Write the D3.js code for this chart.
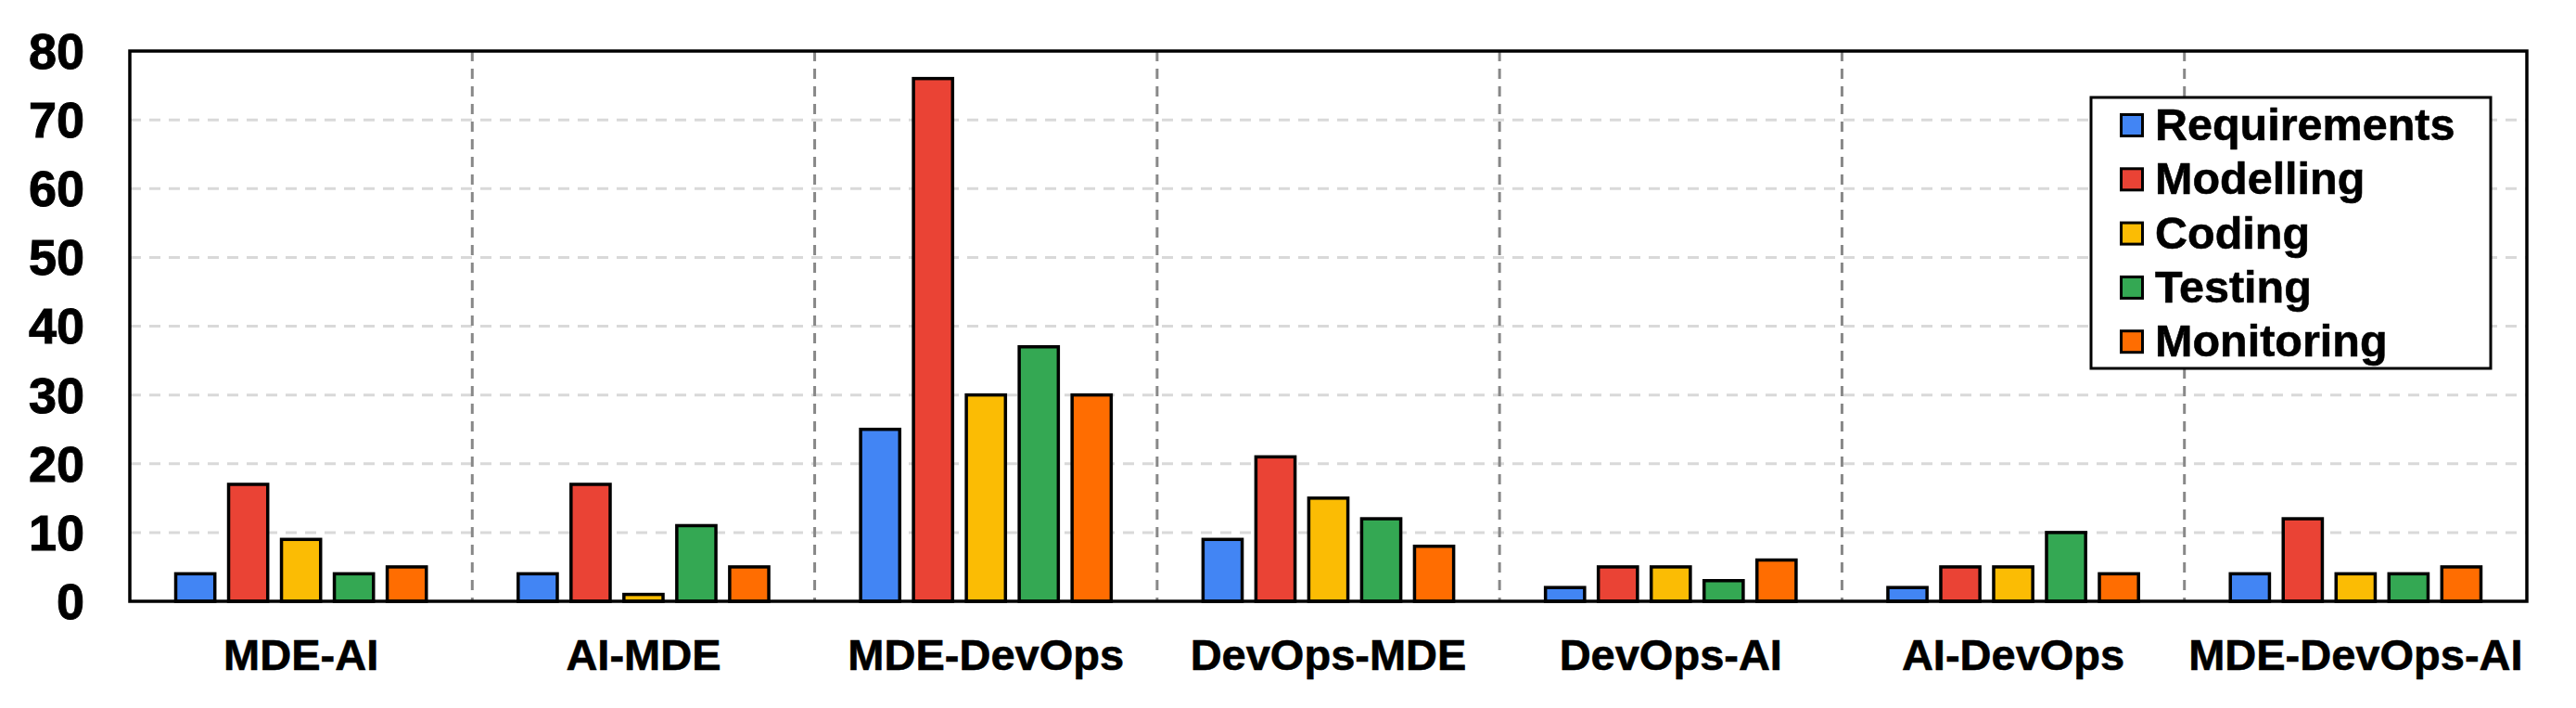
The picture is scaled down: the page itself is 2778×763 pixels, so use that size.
<!DOCTYPE html>
<html>
<head>
<meta charset="utf-8">
<script src="https://cdn.jsdelivr.net/npm/d3@7"></script>
<style>
  html, body { margin: 0; padding: 0; background: #fff; }
  svg { display: block; }
  text { font-family: "Liberation Sans", Arial, sans-serif; font-weight: bold; fill: #000; }
</style>
</head>
<body>
<svg id="chart" width="2778" height="763"></svg>
<script>
// ---- data ----
const categories = ["MDE-AI", "AI-MDE", "MDE-DevOps", "DevOps-MDE", "DevOps-AI", "AI-DevOps", "MDE-DevOps-AI"];
const seriesNames = ["Requirements", "Modelling", "Coding", "Testing", "Monitoring"];
const requirements = [4, 4, 25, 9, 2, 2, 4];
const modelling    = [17, 17, 76, 21, 5, 5, 12];
const coding       = [9, 1, 30, 15, 5, 5, 4];
const testing      = [4, 11, 37, 12, 3, 10, 4];
const monitoring   = [5, 5, 30, 8, 6, 4, 5];
const yTicks = [0, 10, 20, 30, 40, 50, 60, 70, 80];
const colors = ["#4285F4", "#EA4335", "#FBBC04", "#34A853", "#FF6D01"];

const seriesValues = [requirements, modelling, coding, testing, monitoring];

// ---- layout ----
const svg = d3.select("#chart");
const mLeft = 140, mRight = 2725, mTop = 55, mBottom = 648;

const x0 = d3.scaleBand().domain(categories).range([mLeft, mRight]).paddingInner(0).paddingOuter(0);
const bw = x0.bandwidth();
const x1 = d3.scaleBand().domain(seriesNames)
  .range([bw * 0.114, bw * 0.886]).paddingInner(0.26).paddingOuter(0.13);
const y = d3.scaleLinear().domain([0, 80]).range([mBottom, mTop]);

// horizontal gridlines
svg.append("g").selectAll("line")
  .data(yTicks.filter(t => t > 0 && t < 80))
  .join("line")
  .attr("x1", mLeft).attr("x2", mRight)
  .attr("y1", d => y(d)).attr("y2", d => y(d))
  .attr("stroke", "#d9d9d9").attr("stroke-width", 3)
  .attr("stroke-dasharray", "12,9");

// vertical separators
svg.append("g").selectAll("line")
  .data(categories.slice(1))
  .join("line")
  .attr("x1", d => x0(d)).attr("x2", d => x0(d))
  .attr("y1", mTop).attr("y2", mBottom)
  .attr("stroke", "#888888").attr("stroke-width", 3)
  .attr("stroke-dasharray", "11,8");

// bars
const groups = svg.append("g").selectAll("g")
  .data(categories)
  .join("g")
  .attr("transform", d => `translate(${x0(d)},0)`);

groups.selectAll("rect")
  .data((c, ci) => seriesNames.map((s, si) => ({ s, si, v: seriesValues[si][ci] })))
  .join("rect")
  .attr("x", d => x1(d.s))
  .attr("width", x1.bandwidth())
  .attr("y", d => y(d.v))
  .attr("height", d => y(0) - y(d.v))
  .attr("fill", d => colors[d.si])
  .attr("stroke", "#000").attr("stroke-width", 3.5);

// frame
svg.append("rect")
  .attr("x", mLeft).attr("y", mTop)
  .attr("width", mRight - mLeft).attr("height", mBottom - mTop)
  .attr("fill", "none").attr("stroke", "#000").attr("stroke-width", 3.5);

// y axis labels
const yAxis = d3.axisLeft(y).tickValues(yTicks).tickSize(0).tickPadding(49);
const yg = svg.append("g").attr("transform", `translate(${mLeft},0)`).call(yAxis);
yg.select(".domain").remove();
yg.selectAll("text").style("font-size", "54px").style("font-family", "'Liberation Sans', Arial, sans-serif")
  .style("font-weight", "bold").attr("fill", "#000").attr("dy", "0.34em")
  .attr("stroke", "#000").attr("stroke-width", 1);

// x axis labels
const xAxis = d3.axisBottom(x0).tickSize(0).tickPadding(0);
const xg = svg.append("g").attr("transform", `translate(0,${mBottom})`).call(xAxis);
xg.select(".domain").remove();
xg.selectAll("text").style("font-size", "47px").style("font-family", "'Liberation Sans', Arial, sans-serif")
  .style("font-weight", "bold").attr("fill", "#000").attr("y", 74).attr("dy", 0)
  .attr("stroke", "#000").attr("stroke-width", 0.6);

// legend
const lg = svg.append("g");
lg.append("rect")
  .attr("x", 2255).attr("y", 105).attr("width", 431).attr("height", 292)
  .attr("fill", "#fff").attr("stroke", "#000").attr("stroke-width", 3);
const items = lg.selectAll("g.item").data(seriesNames).join("g").attr("class", "item")
  .attr("transform", (d, i) => `translate(0,${135 + i * 58.3})`);
items.append("rect")
  .attr("x", 2287.5).attr("y", -11.5).attr("width", 23).attr("height", 23)
  .attr("fill", (d, i) => colors[i]).attr("stroke", "#000").attr("stroke-width", 3);
items.append("text")
  .attr("x", 2324).attr("y", 16)
  .style("font-size", "48.5px")
  .attr("stroke", "#000").attr("stroke-width", 0.6)
  .text(d => d);
</script>
</body>
</html>
